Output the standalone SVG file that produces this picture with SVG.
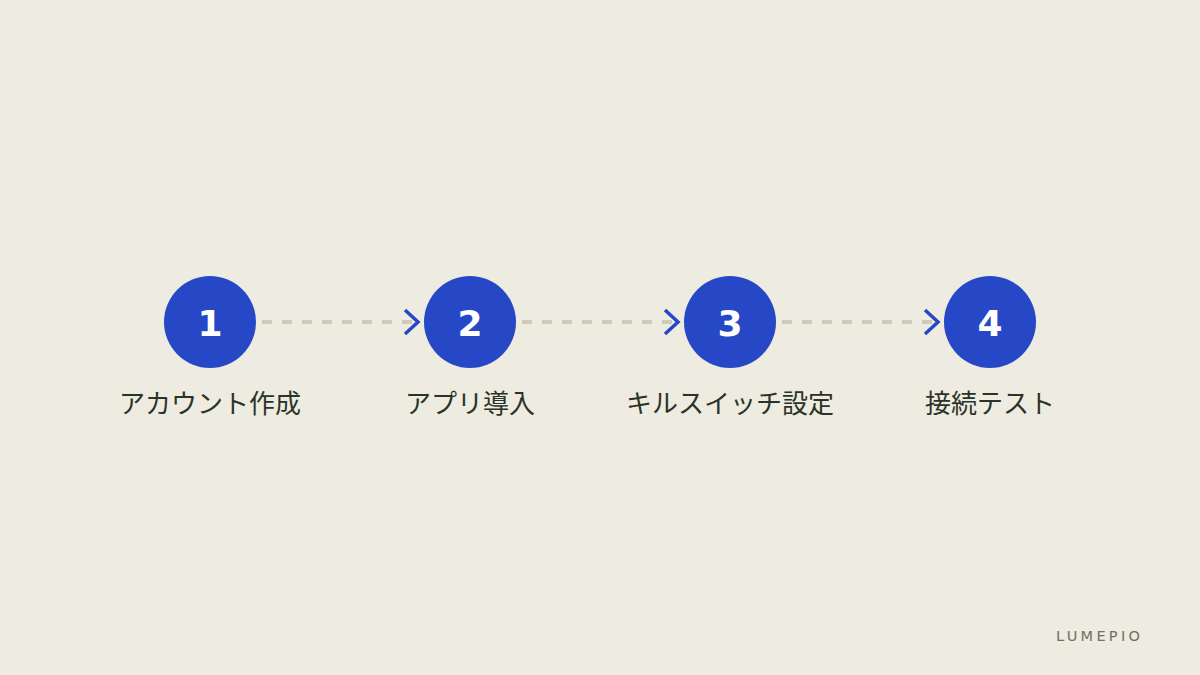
<svg xmlns="http://www.w3.org/2000/svg" width="1200" height="675" viewBox="0 0 1200 675">
<style>
.c{fill:#2748c6}
.n{font-family:"DejaVu Sans",sans-serif;font-weight:bold;font-size:36px;fill:#ffffff;text-anchor:middle}
.l{font-family:"Noto Sans CJK JP","Noto Sans",sans-serif;font-size:26px;fill:#2b3329;text-anchor:middle}
.d{stroke:#cfcab9;stroke-width:4;stroke-dasharray:10 10;fill:none}
.a{stroke:#2748c6;stroke-width:3.5;fill:none;stroke-linecap:butt;stroke-linejoin:miter}
</style>
<rect width="1200" height="675" fill="#eeebe0"/>
<g id="connectors">
<line class="d" x1="262" y1="322" x2="412" y2="322"/>
<polyline class="a" points="405,310 418,322 405,334"/>
<line class="d" x1="522" y1="322" x2="672" y2="322"/>
<polyline class="a" points="665,310 678,322 665,334"/>
<line class="d" x1="782" y1="322" x2="932" y2="322"/>
<polyline class="a" points="925,310 938,322 925,334"/>
</g>
<g id="step1"><circle class="c" cx="210" cy="322" r="46"/><text class="n" x="210" y="336">1</text><text class="l" x="210" y="413">アカウント作成</text></g>
<g id="step2"><circle class="c" cx="470" cy="322" r="46"/><text class="n" x="470" y="336">2</text><text class="l" x="470" y="413">アプリ導入</text></g>
<g id="step3"><circle class="c" cx="730" cy="322" r="46"/><text class="n" x="730" y="336">3</text><text class="l" x="730" y="413">キルスイッチ設定</text></g>
<g id="step4"><circle class="c" cx="990" cy="322" r="46"/><text class="n" x="990" y="336">4</text><text class="l" x="990" y="413">接続テスト</text></g>
<text x="1056" y="641" font-family="'DejaVu Sans',sans-serif" font-size="14.5" letter-spacing="3.3" fill="#6b7264">LUMEPIO</text>
</svg>
